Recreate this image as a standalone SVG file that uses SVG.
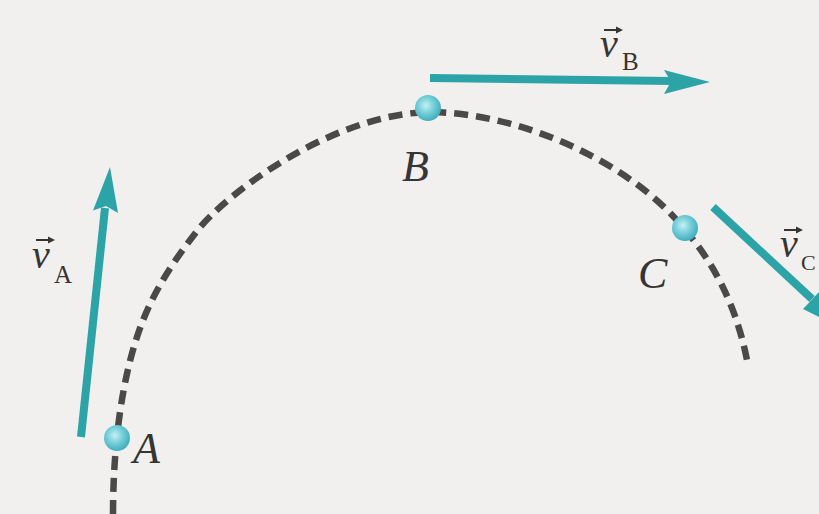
<svg xmlns="http://www.w3.org/2000/svg" width="819" height="514" viewBox="0 0 819 514">
<defs>
<radialGradient id="ball" cx="0.42" cy="0.4" r="0.6">
<stop offset="0" stop-color="#c4f1f4"/>
<stop offset="0.5" stop-color="#78cfd9"/>
<stop offset="1" stop-color="#3fb0bd"/>
</radialGradient>
<style>
.path{fill:none;stroke:#4a4848;stroke-width:6.5;stroke-dasharray:14 8}
.shaft{stroke:#2ca4a7;stroke-width:8;stroke-linecap:butt;fill:none}
.head{fill:#2ca4a7}
.pt{font-family:"Liberation Serif",serif;font-style:italic;font-size:44px;fill:#363434}
.v{font-family:"Liberation Serif",serif;font-style:italic;font-size:40px;fill:#363434}
.sub{font-family:"Liberation Serif",serif;font-size:25px;fill:#363434}
.vec{stroke:#363434;stroke-width:2;fill:none}
.vech{fill:#363434}
</style>
</defs>
<rect width="819" height="514" fill="#f1f0ee"/>
<g id="connectors">
<path id="trajectory" class="path" d="M113,514 C113,450 121,385 137,337 C148,303 165,272 197,231 C224,196 330,114 430,112 C520,113 620,160 672,215 C710,255 735,300 747,360"/>
</g>
<g id="arrow-vA">
<line class="shaft" x1="81" y1="437" x2="105" y2="208"/>
<polygon class="head" points="110,167 118,213 106,206 93,210.5"/>
</g>
<g id="arrow-vB">
<line class="shaft" x1="430" y1="78" x2="672" y2="81"/>
<polygon class="head" points="710,82 664,94 671,81.5 664,70"/>
</g>
<g id="arrow-vC">
<line class="shaft" x1="713" y1="207" x2="812" y2="299"/>
<polygon class="head" points="845,330 803,309 812,299.5 821,290"/>
</g>
<g id="node-A">
<circle cx="117" cy="438" r="13" fill="url(#ball)"/>
<text class="pt" x="133" y="463">A</text>
</g>
<g id="node-B">
<circle cx="428" cy="108" r="13" fill="url(#ball)"/>
<text class="pt" x="402" y="181">B</text>
</g>
<g id="node-C">
<circle cx="685" cy="228" r="13" fill="url(#ball)"/>
<text class="pt" x="638" y="288">C</text>
</g>
<g id="label-vA">
<text class="v" x="32" y="268">v</text>
<text class="sub" x="54" y="283">A</text>
<line class="vec" x1="36" y1="240" x2="50" y2="240"/>
<polygon class="vech" points="55,240 48,236.5 48,243.5"/>
</g>
<g id="label-vB">
<text class="v" x="600" y="57">v</text>
<text class="sub" x="622" y="70">B</text>
<line class="vec" x1="604" y1="30" x2="618" y2="30"/>
<polygon class="vech" points="623,30 616,26.5 616,33.5"/>
</g>
<g id="label-vC">
<text class="v" x="780" y="257">v</text>
<text class="sub" x="801" y="270" style="font-size:22px">C</text>
<line class="vec" x1="784" y1="230" x2="798" y2="230"/>
<polygon class="vech" points="803,230 796,226.5 796,233.5"/>
</g>
</svg>
